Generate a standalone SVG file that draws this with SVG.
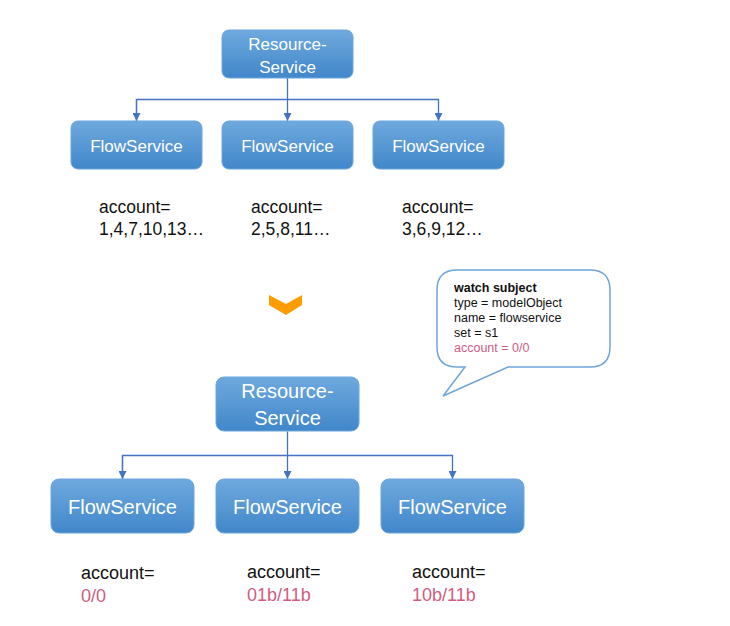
<svg xmlns="http://www.w3.org/2000/svg" width="730" height="626" viewBox="0 0 730 626">
<defs>
<linearGradient id="g" x1="0" y1="0" x2="0" y2="1">
<stop offset="0" stop-color="#6FA9DE"/>
<stop offset="1" stop-color="#4187CA"/>
</linearGradient>
<marker id="arr" viewBox="0 0 10 10" refX="10" refY="5" markerWidth="8" markerHeight="8" markerUnits="userSpaceOnUse" orient="auto">
<path d="M0,0 L10,5 L0,10 z" fill="#4472C4"/>
</marker>
<style>
.box{fill:url(#g);stroke:#6DA6DC;stroke-width:1}
.t{font-family:"Liberation Sans","Noto Sans",sans-serif;fill:#fff;text-anchor:middle}
.a{font-family:"Liberation Sans","Noto Sans",sans-serif;fill:#111}
.c{fill:none;stroke:#4472C4;stroke-width:1.3}
.b{font-family:"Liberation Sans","Noto Sans",sans-serif;font-size:12.5px;fill:#111}
.r{fill:#D15C7F}
</style>
</defs>
<rect width="730" height="626" fill="#fff"/>

<g id="connectors">
<path class="c" d="M287.5,78 V121" marker-end="url(#arr)"/>
<path class="c" d="M136.5,121 V99.5 H438.5 V121" marker-end="url(#arr)"/>
<path class="c" d="M136.5,99.5 V121" marker-end="url(#arr)"/>
<path class="c" d="M287.5,431.5 V479" marker-end="url(#arr)"/>
<path class="c" d="M122.5,479 V455.5 H452.5 V479" marker-end="url(#arr)"/>
<path class="c" d="M122.5,455.5 V479" marker-end="url(#arr)"/>
</g>

<g id="rs1">
<rect class="box" x="222" y="30" width="131" height="48" rx="7"/>
<text class="t" x="287.5" y="50" font-size="17">Resource-</text>
<text class="t" x="287.5" y="73" font-size="17">Service</text>
</g>
<g id="fs1">
<rect class="box" x="71" y="121" width="131" height="48" rx="7"/>
<text class="t" x="136.5" y="151.5" font-size="17">FlowService</text>
</g>
<g id="fs2">
<rect class="box" x="222" y="121" width="131" height="48" rx="7"/>
<text class="t" x="287.5" y="151.5" font-size="17">FlowService</text>
</g>
<g id="fs3">
<rect class="box" x="373" y="121" width="131" height="48" rx="7"/>
<text class="t" x="438.5" y="151.5" font-size="17">FlowService</text>
</g>

<g id="acc-top" class="a" font-size="17.5">
<text x="99" y="213">account=</text>
<text x="99" y="235">1,4,7,10,13…</text>
<text x="251" y="213">account=</text>
<text x="251" y="235">2,5,8,11…</text>
<text x="402" y="213">account=</text>
<text x="402" y="235">3,6,9,12…</text>
</g>

<g id="chevron">
<polygon points="269,295 286,304 302,295 302,305 286,315 269,305" fill="#FF9C00"/>
</g>

<g id="bubble">
<path d="M457,270 H590 Q610,270 610,290 V347 Q610,367 590,367 H508 L443,396 L465,367 H457 Q437,367 437,347 V290 Q437,270 457,270 Z" fill="#fff" stroke="#6FA5DB" stroke-width="1.5"/>
<text class="b" x="454" y="292" font-weight="bold">watch subject</text>
<text class="b" x="454" y="307">type = modelObject</text>
<text class="b" x="454" y="322">name = flowservice</text>
<text class="b" x="454" y="337">set = s1</text>
<text class="b r" x="454" y="352">account = 0/0</text>
</g>

<g id="rs2">
<rect class="box" x="216" y="377" width="143" height="54" rx="8"/>
<text class="t" x="287.5" y="398" font-size="20">Resource-</text>
<text class="t" x="287.5" y="425" font-size="20">Service</text>
</g>
<g id="fs4">
<rect class="box" x="51" y="479" width="143" height="54" rx="8"/>
<text class="t" x="122.5" y="514" font-size="20">FlowService</text>
</g>
<g id="fs5">
<rect class="box" x="216" y="479" width="143" height="54" rx="8"/>
<text class="t" x="287.5" y="514" font-size="20">FlowService</text>
</g>
<g id="fs6">
<rect class="box" x="381" y="479" width="143" height="54" rx="8"/>
<text class="t" x="452.5" y="514" font-size="20">FlowService</text>
</g>

<g id="acc-bottom" class="a" font-size="18">
<text x="81" y="579">account=</text>
<text x="81" y="602" class="r">0/0</text>
<text x="247" y="578">account=</text>
<text x="247" y="601" class="r">01b/11b</text>
<text x="412" y="578">account=</text>
<text x="412" y="601" class="r">10b/11b</text>
</g>
</svg>
